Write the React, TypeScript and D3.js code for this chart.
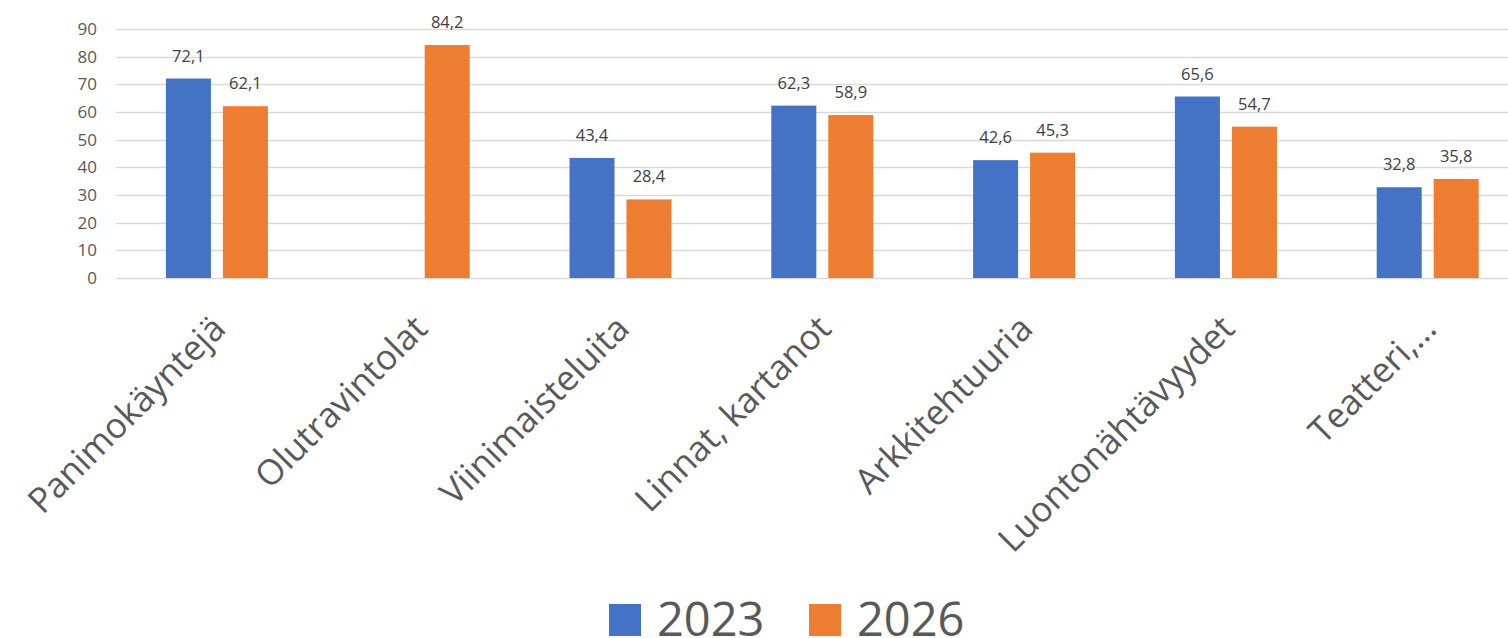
import { useEffect, useRef } from 'react';
import * as d3 from 'd3';

const categories = [
  'Panimokäyntejä',
  'Olutravintolat',
  'Viinimaisteluita',
  'Linnat, kartanot',
  'Arkkitehtuuria',
  'Luontonähtävyydet',
  'Teatteri,…',
];
const seriesNames = ['2023', '2026'];
const values2023 = [72.1, null, 43.4, 62.3, 42.6, 65.6, 32.8];
const values2026 = [62.1, 84.2, 28.4, 58.9, 45.3, 54.7, 35.8];
const colors = ['#4472C4', '#ED7D31'];
const yTicks = [0, 10, 20, 30, 40, 50, 60, 70, 80, 90];

export default function App() {
  const svgRef = useRef<SVGSVGElement>(null);
  const width = 1508;
  const height = 638;

  useEffect(() => {
    document.body.style.margin = '0';
    document.body.style.overflow = 'hidden';

    const svg = d3.select(svgRef.current);
    svg.selectAll('*').remove();

    const font = '"Open Sans", "Segoe UI", sans-serif';
    const left = 116;
    const step = 201.8;

    const x = d3.scaleBand<string>()
      .domain(categories)
      .range([left, left + step * categories.length]);

    const y = d3.scaleLinear()
      .domain([0, 90])
      .range([278, 29]);

    const xs = d3.scaleBand<string>()
      .domain(seriesNames)
      .range([x.bandwidth() / 2 - 51, x.bandwidth() / 2 + 51])
      .paddingInner(0.21);

    // gridlines
    svg.append('g')
      .selectAll('line')
      .data(yTicks)
      .enter()
      .append('line')
      .attr('x1', left)
      .attr('x2', width)
      .attr('y1', d => Math.round(y(d)) + 0.5)
      .attr('y2', d => Math.round(y(d)) + 0.5)
      .attr('stroke', '#d9d9d9')
      .attr('stroke-width', 1.3);

    // y labels
    svg.append('g')
      .selectAll('text')
      .data(yTicks)
      .enter()
      .append('text')
      .attr('x', 97)
      .attr('y', d => y(d))
      .attr('dy', '0.35em')
      .attr('text-anchor', 'end')
      .attr('font-family', font)
      .attr('font-size', 17)
      .attr('fill', '#595959')
      .text(d => d);

    const series = [values2023, values2026];

    series.forEach((vals, si) => {
      const rows = categories
        .map((c, i) => ({ c, v: vals[i] }))
        .filter(d => d.v != null) as { c: string; v: number }[];

      const g = svg.append('g');
      g.selectAll('rect')
        .data(rows)
        .enter()
        .append('rect')
        .attr('x', d => (x(d.c) as number) + (xs(seriesNames[si]) as number))
        .attr('y', d => y(d.v))
        .attr('width', xs.bandwidth())
        .attr('height', d => y(0) - y(d.v))
        .attr('fill', colors[si]);

      g.selectAll('text')
        .data(rows)
        .enter()
        .append('text')
        .attr('x', d => (x(d.c) as number) + (xs(seriesNames[si]) as number) + xs.bandwidth() / 2)
        .attr('y', d => y(d.v) - 17)
        .attr('text-anchor', 'middle')
        .attr('font-family', font)
        .attr('font-size', 16.5)
        .attr('fill', '#404040')
        .text(d => d3.format('.1f')(d.v).replace('.', ','));
    });

    // category labels
    svg.append('g')
      .selectAll('text')
      .data(categories)
      .enter()
      .append('text')
      .attr('transform', d => `translate(${(x(d) as number) + x.bandwidth() / 2 + 2},${322}) rotate(-45)`)
      .attr('text-anchor', 'end')
      .attr('dy', '0.35em')
      .attr('font-family', font)
      .attr('font-size', 35)
      .attr('fill', '#595959')
      .text(d => d);

    // legend
    const legendX = [609, 809];
    const lg = svg.append('g');
    seriesNames.forEach((s, i) => {
      lg.append('rect')
        .attr('x', legendX[i])
        .attr('y', 604)
        .attr('width', 32)
        .attr('height', 32)
        .attr('fill', colors[i]);
      lg.append('text')
        .attr('x', legendX[i] + 48)
        .attr('y', 636)
        .attr('font-family', font)
        .attr('font-size', 47)
        .attr('fill', '#595959')
        .text(s);
    });
  }, []);

  return <svg ref={svgRef} width={width} height={height} style={{ display: 'block', background: '#fff' }}></svg>;
}
